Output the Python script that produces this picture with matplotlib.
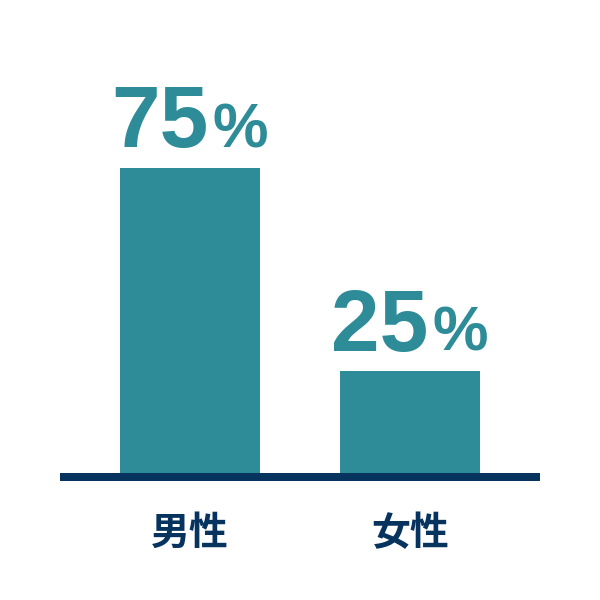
import matplotlib
matplotlib.use("Agg")
import matplotlib.pyplot as plt

categories = ["男性", "女性"]
values = [75, 25]

teal = "#2E8C99"
navy = "#06345F"

fig = plt.figure(figsize=(6, 6), dpi=100)
# axes: x 60..540 px, y 60..473 px (from top)
ax = fig.add_axes([60 / 600, 127 / 600, 480 / 600, 413 / 600])

x = list(range(len(categories)))
ax.bar(x, values, width=0.636, color=teal, zorder=2)

ax.set_xlim(-0.591, 1.591)
ax.set_ylim(0, 413 / 305 * 75)

for side in ["top", "left", "right"]:
    ax.spines[side].set_visible(False)
ax.spines["bottom"].set_color(navy)
ax.spines["bottom"].set_linewidth(5.76)
ax.spines["bottom"].set_position(("outward", 2.88))
ax.spines["bottom"].set_capstyle("butt")

ax.set_yticks([])
ax.set_xticks(x)
ax.set_xticklabels(categories, fontsize=28, fontweight="bold", color=navy,
                   family=["Noto Sans CJK JP", "DejaVu Sans"])
ax.tick_params(axis="x", length=0, pad=26.5)

# value labels: big number + smaller percent sign
for xi, v in zip(x, values):
    ax.annotate(f"{v}", xy=(xi, v), xytext=(13, 15), textcoords="offset points",
                ha="right", va="baseline", fontsize=63, fontweight="bold",
                color=teal, family="Liberation Sans")
    ax.annotate("%", xy=(xi, v), xytext=(16, 15), textcoords="offset points",
                ha="left", va="baseline", fontsize=45, fontweight="bold",
                color=teal, family="Liberation Sans")

fig.savefig("out.png", dpi=100)
